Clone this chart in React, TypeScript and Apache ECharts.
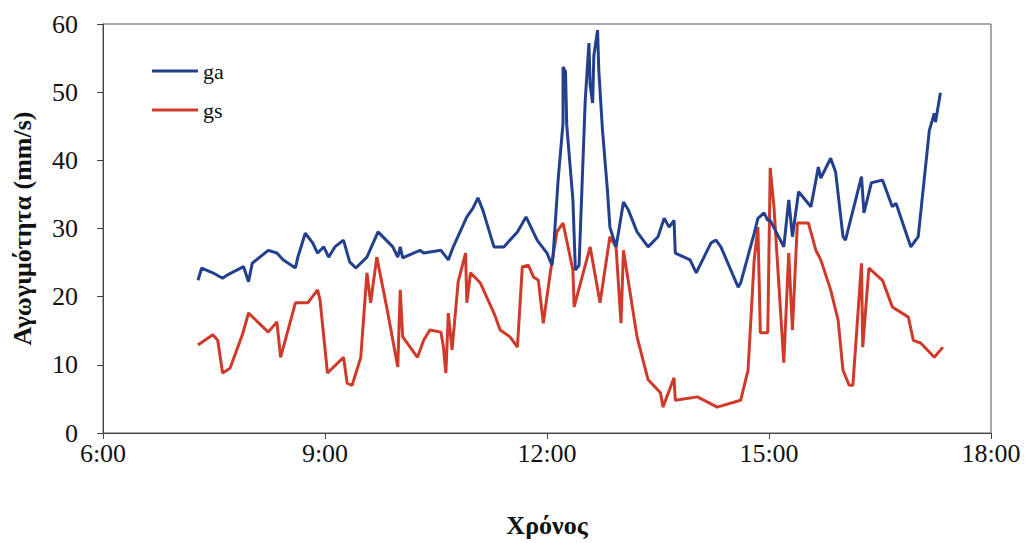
import React, { useEffect, useRef } from "react";
import * as echarts from "echarts";

const xTickLabels = ["6:00", "9:00", "12:00", "15:00", "18:00"];
const yTicks = [0, 10, 20, 30, 40, 50, 60];

const gaTimes = [
  "7:17", "7:20", "7:29", "7:37", "7:41", "7:54", "7:58", "8:01", "8:14", "8:21",
  "8:26", "8:36", "8:38", "8:44", "8:50", "8:54", "8:59", "9:03", "9:08", "9:15",
  "9:20", "9:25", "9:34", "9:43", "9:55", "9:59", "10:01", "10:03", "10:17", "10:20",
  "10:34", "10:40", "10:44", "10:55", "11:00", "11:04", "11:08", "11:17", "11:25", "11:36",
  "11:43", "11:47", "11:52", "12:00", "12:04", "12:05", "12:09", "12:13", "12:13", "12:15",
  "12:16", "12:21", "12:23", "12:26", "12:31", "12:34", "12:35", "12:37", "12:38", "12:41",
  "12:42", "12:45", "12:49", "12:51", "12:56", "13:02", "13:06", "13:13", "13:22", "13:30",
  "13:35", "13:39", "13:43", "13:44", "13:56", "14:01", "14:13", "14:17", "14:21", "14:35",
  "14:37", "14:48", "14:51", "14:56", "14:59", "15:01", "15:12", "15:16", "15:19", "15:24",
  "15:34", "15:40", "15:42", "15:50", "15:54", "16:00", "16:02", "16:15", "16:17", "16:23",
  "16:32", "16:40", "16:43", "16:55", "17:01", "17:10", "17:14", "17:15", "17:19"
];
const gaValues = [
  22.4, 24.2, 23.5, 22.7, 23.2, 24.4, 22.2, 24.9, 26.8, 26.4,
  25.4, 24.2, 25.8, 29.3, 27.9, 26.4, 27.3, 25.8, 27.3, 28.3,
  25.1, 24.2, 25.8, 29.5, 27.3, 25.8, 27.3, 25.7, 26.8, 26.4,
  26.8, 25.4, 27.3, 31.7, 33.0, 34.5, 32.7, 27.3, 27.3, 29.5,
  31.7, 30.2, 28.3, 26.4, 24.6, 26.1, 37.1, 45.5, 53.7, 53.0,
  45.2, 34.2, 23.9, 24.6, 48.8, 57.2, 51.0, 48.4, 55.4, 59.1,
  53.2, 44.4, 35.6, 30.2, 27.3, 33.9, 32.7, 29.5, 27.3, 28.8,
  31.5, 30.2, 31.2, 26.4, 25.4, 23.5, 27.9, 28.3, 27.3, 21.4,
  22.0, 29.3, 31.5, 32.3, 31.2, 31.2, 27.3, 34.2, 28.8, 35.4,
  33.2, 39.0, 37.4, 40.3, 38.3, 28.8, 28.3, 37.6, 32.3, 36.7,
  37.1, 33.2, 33.7, 27.3, 28.8, 44.4, 46.9, 45.6, 49.9
];

const gsTimes = [
  "7:17", "7:29", "7:33", "7:37", "7:43", "7:53", "7:58", "8:14", "8:21", "8:24",
  "8:36", "8:46", "8:54", "8:56", "9:02", "9:15", "9:18", "9:22", "9:29", "9:34",
  "9:37", "9:42", "9:50", "9:55", "9:59", "10:01", "10:03", "10:15", "10:20", "10:25",
  "10:34", "10:36", "10:38", "10:40", "10:43", "10:48", "10:54", "10:55", "10:58", "11:06",
  "11:17", "11:22", "11:30", "11:36", "11:40", "11:45", "11:49", "11:53", "11:57", "12:03",
  "12:08", "12:13", "12:21", "12:22", "12:35", "12:43", "12:51", "12:56", "13:00", "13:02",
  "13:13", "13:22", "13:32", "13:34", "13:43", "13:44", "14:02", "14:18", "14:37", "14:43",
  "14:48", "14:51", "14:53", "14:59", "15:01", "15:04", "15:12", "15:16", "15:19", "15:23",
  "15:32", "15:38", "15:42", "15:50", "15:56", "16:00", "16:05", "16:08", "16:15", "16:16",
  "16:21", "16:32", "16:40", "16:53", "16:57", "17:03", "17:14", "17:21"
];
const gsValues = [
  12.9, 14.4, 13.6, 8.8, 9.5, 14.4, 17.6, 14.8, 16.3, 11.1,
  19.1, 19.1, 21.0, 19.5, 8.8, 11.1, 7.3, 7.0, 11.1, 23.5,
  19.1, 25.8, 18.5, 13.6, 9.7, 21.0, 14.1, 11.1, 13.6, 15.1,
  14.8, 12.6, 8.8, 17.6, 12.2, 22.2, 26.4, 19.1, 23.5, 22.0,
  17.6, 15.1, 14.1, 12.6, 24.4, 24.6, 22.9, 22.4, 16.1, 23.9,
  29.5, 30.8, 23.9, 18.5, 27.3, 19.1, 28.8, 27.3, 16.1, 26.8,
  14.1, 7.8, 5.9, 3.8, 8.1, 4.8, 5.3, 3.8, 4.8, 9.2,
  25.4, 30.2, 14.7, 14.7, 38.9, 33.2, 10.3, 26.4, 15.1, 30.8,
  30.8, 26.8, 25.4, 21.0, 16.6, 9.2, 7.0, 7.0, 24.9, 12.6,
  24.2, 22.4, 18.5, 17.0, 13.6, 13.2, 11.1, 12.6
];

const toMinutes = (s: string) => {
  const [h, m] = s.split(":").map(Number);
  return h * 60 + m;
};

const FONT = "Liberation Serif";

export default function App() {
  const ref = useRef<HTMLDivElement>(null);
  useEffect(() => {
    if (!ref.current) return;
    const chart = echarts.init(ref.current, null, { renderer: "svg" });
    const ga = gaTimes.map((t, i) => [toMinutes(t), gaValues[i]]);
    const gs = gsTimes.map((t, i) => [toMinutes(t), gsValues[i]]);
    chart.setOption({
      animation: false,
      backgroundColor: "#ffffff",
      textStyle: { fontFamily: FONT },
      grid: {
        left: 103,
        right: 38,
        top: 24,
        bottom: 110,
        outerBoundsMode: "none",
        containLabel: false,
        show: true,
        borderColor: "#555",
        borderWidth: 1,
        backgroundColor: "transparent",
      },
      legend: {
        orient: "vertical",
        left: 147,
        top: 55,
        itemWidth: 46,
        itemHeight: 22,
        itemGap: 17,
        icon: "path://M0,0 L46,0 L46,3 L0,3 Z",
        textStyle: { fontFamily: FONT, fontSize: 22, color: "#111" },
        data: ["ga", "gs"],
      },
      xAxis: {
        type: "value",
        min: 360,
        max: 1080,
        interval: 180,
        name: "Χρόνος",
        nameLocation: "middle",
        nameGap: 79,
        nameTextStyle: { fontFamily: FONT, fontSize: 26, fontWeight: "bold", color: "#111" },
        axisLine: { show: true, lineStyle: { color: "#444", width: 1 } },
        axisTick: { show: true, inside: false, length: 6, lineStyle: { color: "#444" } },
        splitLine: { show: false },
        axisLabel: {
          margin: 7,
          fontFamily: FONT,
          fontSize: 26,
          color: "#111",
          formatter: (v: number) => xTickLabels[Math.round((v - 360) / 180)] ?? "",
        },
      },
      yAxis: {
        type: "value",
        min: yTicks[0],
        max: yTicks[yTicks.length - 1],
        interval: 10,
        name: "Αγωγιμότητα (mm/s)",
        nameLocation: "middle",
        nameGap: 68,
        nameRotate: 90,
        nameTextStyle: { fontFamily: FONT, fontSize: 26, fontWeight: "bold", color: "#111" },
        axisLine: { show: true, lineStyle: { color: "#444", width: 1 } },
        axisTick: { show: true, inside: false, length: 6, lineStyle: { color: "#444" } },
        splitLine: { show: false },
        axisLabel: { margin: 25, fontFamily: FONT, fontSize: 26, color: "#111" },
      },
      series: [
        {
          name: "ga",
          type: "line",
          data: ga,
          showSymbol: false,
          symbol: "none",
          lineStyle: { color: "#22408e", width: 3 },
          itemStyle: { color: "#22408e" },
          z: 3,
        },
        {
          name: "gs",
          type: "line",
          data: gs,
          showSymbol: false,
          symbol: "none",
          lineStyle: { color: "#cf3a2a", width: 3 },
          itemStyle: { color: "#cf3a2a" },
          z: 2,
        },
      ],
    });
    return () => chart.dispose();
  }, []);
  return (
    <div
      ref={ref}
      style={{ position: "fixed", left: 0, top: 0, width: 1029, height: 543, background: "#fff" }}
    />
  );
}
